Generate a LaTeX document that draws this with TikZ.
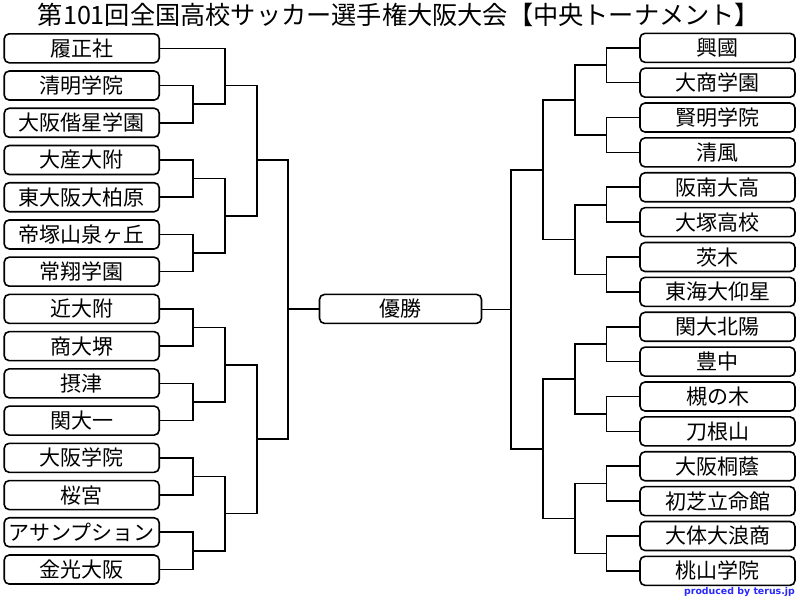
\documentclass[tikz,border=0pt]{standalone}
\usepackage{fontspec}
\setmainfont{Noto Sans CJK JP}
\newfontfamily\footfont{DejaVu Sans}
\usetikzlibrary{calc}

\definecolor{footblue}{RGB}{40,40,255}

\tikzset{
	team/.style = {draw, line width = 1.6pt, rounded corners = 5pt, inner sep = 0pt,
		minimum width = 155pt, minimum height = 29pt, font = \fontsize{21}{21}\selectfont},
	link/.style = {line width = 1.6pt},
}

\begin{document}
\begin{tikzpicture}[x = 1pt, y = -1pt]
		\def\lx{81.7};
		\def\ly{48.3};
		\def\lp{37.23};
		\def\rx{717.5};
		\def\ry{47.8};
		\def\rp{34.87};
		
		\useasboundingbox (0,0) rectangle (800,600);
		
		\node (title) at (399,15) {\fontsize{25.2}{25.2}\selectfont 第101回全国高校サッカー選手権大阪大会【中央トーナメント】};
		
		\begin{scope}
			\foreach \name [count = \i from 0] in {履正社, 清明学院, 大阪偕星学園, 大産大附, 東大阪大柏原, 帝塚山泉ヶ丘, 常翔学園, 近大附, 商大堺, 摂津, 関大一, 大阪学院, 桜宮, アサンプション, 金光大阪}
				\node [team] (L\i) at (\lx, {\ly + \i*\lp}) {\name};
			\foreach \name [count = \i from 0] in {興國, 大商学園, 賢明学院, 清風, 阪南大高, 大塚高校, 茨木, 東海大仰星, 関大北陽, 豊中, 槻の木, 刀根山, 大阪桐蔭, 初芝立命館, 大体大浪商, 桃山学院}
				\node [team] (R\i) at (\rx, {\ry + \i*\rp}) {\name};
			\node [team, minimum width = 162pt] (win) at (400.5, {\ly + 7*\lp}) {優勝};
		\end{scope}
		
		% left half
		\begin{scope}
			\foreach \k in {1,...,7}
				\coordinate (a\k) at (193, {\ly + (2*\k - 0.5)*\lp});
			\coordinate (b1) at (225, {\ly + 1*\lp});
			\coordinate (b2) at (225, {\ly + 4.5*\lp});
			\coordinate (b3) at (225, {\ly + 8.5*\lp});
			\coordinate (b4) at (225, {\ly + 12.5*\lp});
			\coordinate (c1) at (257, {\ly + 3*\lp});
			\coordinate (c2) at (257, {\ly + 10.5*\lp});
			\coordinate (d1) at (288, {\ly + 7*\lp});
			
			\foreach \j/\a/\b in {a1/L1/L2, a2/L3/L4, a3/L5/L6, a4/L7/L8, a5/L9/L10, a6/L11/L12, a7/L13/L14, b1/L0/a1, b2/a2/a3, b3/a4/a5, b4/a6/a7, c1/b1/b2, c2/b3/b4, d1/c1/c2}
				\draw [link] (\a) -| (\j) |- (\b);
			\draw [link] (d1) -- (win);
		\end{scope}
		
		% right half
		\begin{scope}
			\foreach \k in {1,...,8}
				\coordinate (p\k) at (606.5, {\ry + (2*\k - 1.5)*\rp});
			\foreach \k in {1,...,4}
				\coordinate (q\k) at (575, {\ry + (4*\k - 2.5)*\rp});
			\coordinate (s1) at (543, {\ry + 3.5*\rp});
			\coordinate (s2) at (543, {\ry + 11.5*\rp});
			\coordinate (t1) at (511, {\ry + 7.5*\rp});
			
			\foreach \j/\a/\b in {p1/R0/R1, p2/R2/R3, p3/R4/R5, p4/R6/R7, p5/R8/R9, p6/R10/R11, p7/R12/R13, p8/R14/R15, q1/p1/p2, q2/p3/p4, q3/p5/p6, q4/p7/p8, s1/q1/q2, s2/q3/q4, t1/s1/s2}
				\draw [link] (\a) -| (\j) |- (\b);
			\draw [link] (t1) -- (t1 -| win.east);
		\end{scope}
		
		\node [anchor = south east, inner sep = 0pt, text = footblue, font = \footfont\bfseries\fontsize{9.4}{9.4}\selectfont] (credit) at (795,597) {produced by terus.jp};
	\end{tikzpicture}
\end{document}
